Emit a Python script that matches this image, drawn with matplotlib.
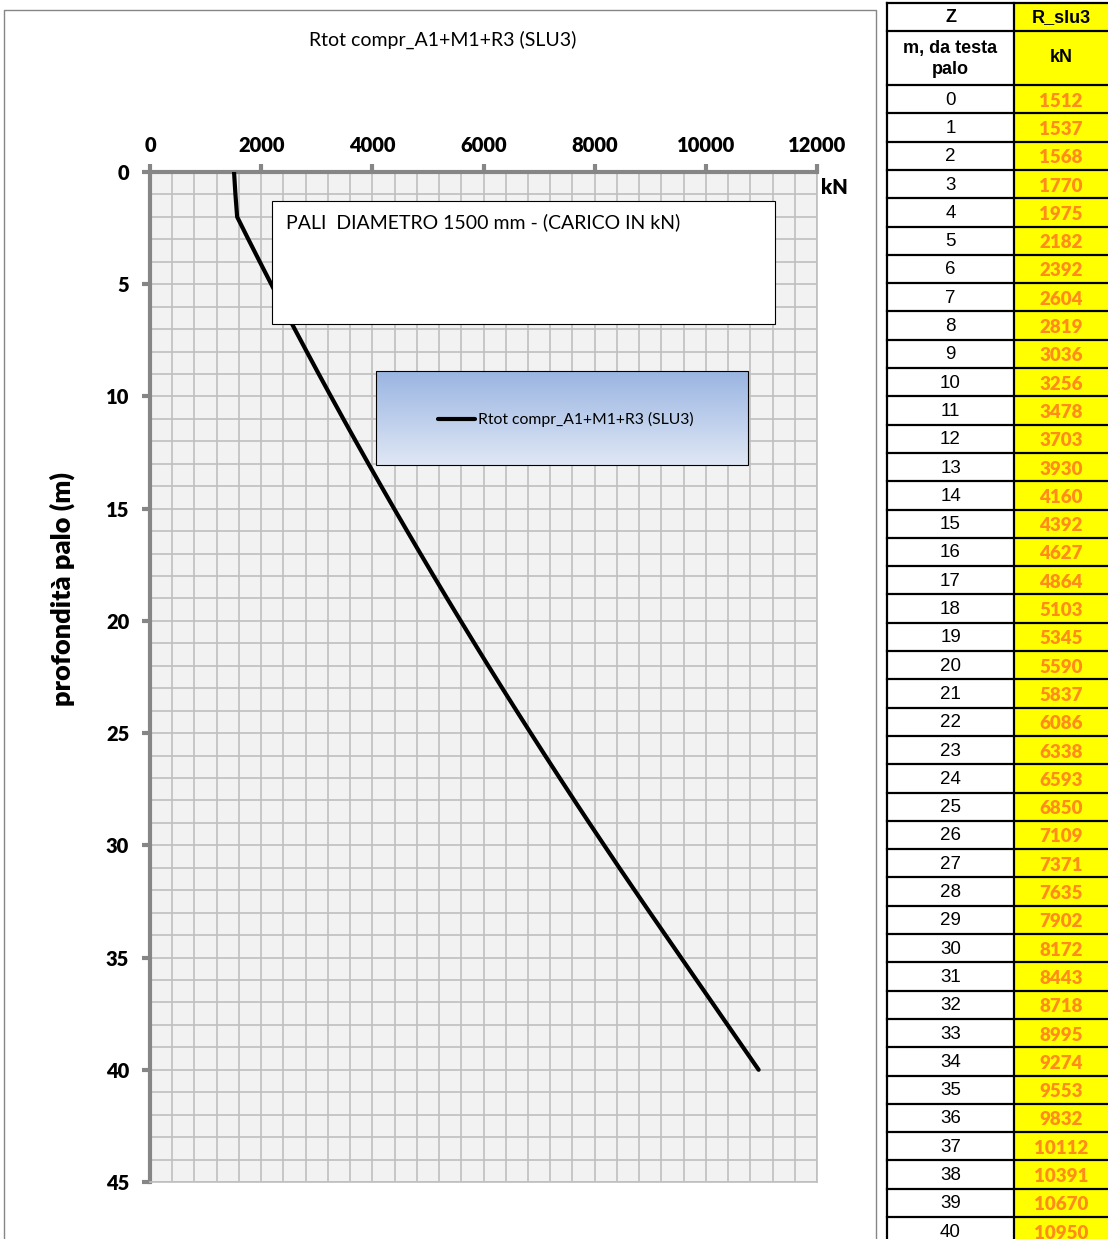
import matplotlib as mpl
import matplotlib.pyplot as plt
import numpy as np
from matplotlib.patches import Rectangle
from matplotlib.lines import Line2D

mpl.use("Agg")

depth = list(range(0, 41))
r_slu3 = [1512, 1537, 1568, 1770, 1975, 2182, 2392, 2604, 2819, 3036,
          3256, 3478, 3703, 3930, 4160, 4392, 4627, 4864, 5103, 5345,
          5590, 5837, 6086, 6338, 6593, 6850, 7109, 7371, 7635, 7902,
          8172, 8443, 8718, 8995, 9274, 9553, 9832, 10112, 10391, 10670,
          10950]
x_ticks = [0, 2000, 4000, 6000, 8000, 10000, 12000]
y_ticks = [0, 5, 10, 15, 20, 25, 30, 35, 40, 45]
series_name = "Rtot compr_A1+M1+R3 (SLU3)"
box_text = "PALI  DIAMETRO 1500 mm - (CARICO IN kN)"

W, H = 1108, 1239
CHART_FONT = ["Lato", "DejaVu Sans"]
TABLE_FONT = ["Liberation Sans", "DejaVu Sans"]
GRID = "#BFBFBF"
AXC = "#868686"

fig = plt.figure(figsize=(W / 100, H / 100), dpi=100)

# overlay in pixel coordinates for frames / titles
ov = fig.add_axes([0, 0, 1, 1], zorder=0)
ov.set_xlim(0, W)
ov.set_ylim(H, 0)
ov.axis("off")

# chart frame
ov.plot([4, 4, 876, 876], [H, 10, 10, H], color=AXC, lw=1)
ov.text(443, 40, series_name, ha="center", va="center", fontsize=14,
        family=CHART_FONT)

# main plot
x0, x1, y0, y1 = 150, 817, 172, 1182
ax = fig.add_axes([x0 / W, 1 - y1 / H, (x1 - x0) / W, (y1 - y0) / H], zorder=2)
ax.set_facecolor("#F2F2F2")
ax.set_xlim(0, 12000)
ax.set_ylim(45, 0)
ax.xaxis.tick_top()
ax.set_xticks(x_ticks)
ax.set_yticks(y_ticks)
ax.set_xticks(np.arange(0, 12001, 400), minor=True)
ax.set_yticks(np.arange(0, 46, 1), minor=True)
ax.grid(True, which="both", color=GRID, lw=1.2)
ax.set_axisbelow(True)
for s in ["left", "top"]:
    ax.spines[s].set_color(AXC)
    ax.spines[s].set_linewidth(3)
for s in ["right", "bottom"]:
    ax.spines[s].set_color(GRID)
    ax.spines[s].set_linewidth(1.2)
ax.tick_params(which="major", color=AXC, width=3, length=6, labelsize=14.5)
ax.tick_params(axis="x", which="major", pad=6)
ax.tick_params(axis="y", which="major", pad=9)
ax.tick_params(which="minor", length=0)
for lab in ax.get_xticklabels() + ax.get_yticklabels():
    lab.set_fontweight("heavy")
    lab.set_family(CHART_FONT)
ax.plot(r_slu3, depth, color="black", lw=3, solid_capstyle="round", zorder=3)

# y label and unit
ov.text(62, 589, "profondità palo (m)", rotation=90, ha="center", va="center",
        fontsize=19.5, fontweight="heavy", family=CHART_FONT)
fig.text(834 / W, 1 - 187 / H, "kN", ha="center", va="center",
         fontsize=14.5, fontweight="heavy", family=CHART_FONT, zorder=5)

# overlay boxes drawn on top of plot
top = fig.add_axes([0, 0, 1, 1], zorder=4)
top.set_xlim(0, W)
top.set_ylim(H, 0)
top.axis("off")
top.patch.set_alpha(0)

top.add_patch(Rectangle((272, 201), 503, 123, facecolor="white",
                        edgecolor="black", lw=0.8))
top.text(286, 222, box_text, ha="left", va="center", fontsize=14,
         family=CHART_FONT)

grad = np.linspace(0, 1, 100).reshape(-1, 1)
cmap = mpl.colors.LinearSegmentedColormap.from_list("lg", ["#9AB5E2", "#DFE7F5"])
top.imshow(grad, extent=(376, 748, 465, 371), cmap=cmap, aspect="auto",
           zorder=1)
top.add_patch(Rectangle((376, 371), 372, 94, facecolor="none",
                        edgecolor="black", lw=0.8, zorder=2))
top.add_line(Line2D([438, 475], [419, 419], color="black", lw=3,
                    solid_capstyle="round", zorder=3))
top.text(478, 419, series_name, ha="left", va="center", fontsize=11.3,
         family=CHART_FONT, zorder=3)
top.set_xlim(0, W)
top.set_ylim(H, 0)

# table
tx0, tx1, tx2 = 887, 1014, 1112
ty0, ty1, ty2 = 3, 31, 85
rh = 28.3
tlw = 1.6
top.add_patch(Rectangle((tx1, ty0), tx2 - tx1, H - ty0 + 30,
                        facecolor="#FFFF00", edgecolor="none", zorder=1))
top.add_patch(Rectangle((tx0, ty0), tx1 - tx0, H - ty0 + 30,
                        facecolor="white", edgecolor="none", zorder=1))
for xv in [tx0, tx1]:
    top.plot([xv, xv], [ty0, H + 5], color="black", lw=tlw, zorder=3)
for yv in [ty0, ty1, ty2] + [ty2 + rh * (i + 1) for i in range(len(depth))]:
    top.plot([tx0, tx2], [yv, yv], color="black", lw=tlw, zorder=3)

cx0 = (tx0 + tx1) / 2
cx1 = (tx1 + 1108) / 2
top.text(cx0, (ty0 + ty1) / 2 + 1, "Z", ha="center", va="center",
         fontsize=13, fontweight="bold", family=TABLE_FONT, zorder=4)
top.text(cx1, (ty0 + ty1) / 2 + 1, "R_slu3", ha="center",
         va="center", fontsize=13, fontweight="bold", family=TABLE_FONT,
         zorder=4)
top.text(cx0, (ty1 + ty2) / 2 + 1, "m, da testa\npalo", ha="center",
         va="center", fontsize=13, fontweight="bold", family=TABLE_FONT,
         linespacing=1.35, zorder=4)
top.text(cx1, (ty1 + ty2) / 2, "kN", ha="center", va="center",
         fontsize=13, fontweight="bold", family=TABLE_FONT, zorder=4)
for i, (z, r) in enumerate(zip(depth, r_slu3)):
    yc = ty2 + rh * i + rh / 2
    top.text(cx0, yc + 1, str(z), ha="center", va="center",
             fontsize=13.5, family=TABLE_FONT, zorder=4)
    top.text(cx1, yc + 2, str(r), ha="center", va="center",
             fontsize=13.5, fontweight="heavy", color="#FF8C1A",
             family=CHART_FONT, zorder=4)

fig.savefig("out.png", dpi=100)
plt.close(fig)
